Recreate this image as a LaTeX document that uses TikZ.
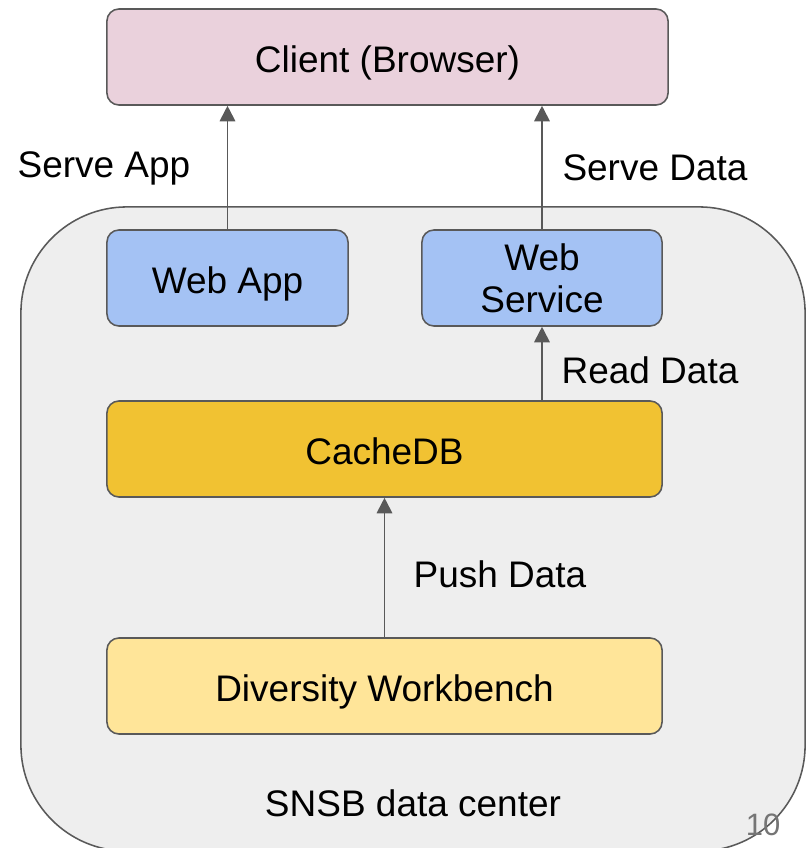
\documentclass[tikz,border=0pt]{standalone}
\usepackage{fontspec}
\setmainfont{Liberation Sans}
\usetikzlibrary{arrows.meta}
\definecolor{client_pink}{HTML}{EAD1DC}
\definecolor{app_blue}{HTML}{A4C2F4}
\definecolor{cache_gold}{HTML}{F1C232}
\definecolor{bench_yellow}{HTML}{FFE599}
\definecolor{center_gray}{HTML}{EEEEEE}
\definecolor{line_gray}{HTML}{595959}
\definecolor{page_gray}{HTML}{757575}
\begin{document}
\begin{tikzpicture}[x=0.025cm,y=-0.025cm,
  every node/.style={font=\fontsize{26.3}{30}\selectfont},
  box_node/.style={draw=line_gray,line width=1.1pt,rounded corners=0.3cm,minimum height=2.4cm,inner sep=0pt,text height=22pt,text depth=0pt},
  label_node/.style={inner sep=0pt},
  flow_arrow/.style={-{Triangle[width=11pt,length=11pt]},draw=line_gray,line width=1.3pt}]

     \useasboundingbox (0,0) rectangle (807,848);

     \node[draw=line_gray,line width=1.1pt,fill=center_gray,rounded corners=2.65cm,minimum width=19.6cm,minimum height=16.1cm,inner sep=0pt] (snsb) at (413,529) {};

     \node[box_node,fill=client_pink,minimum width=14.025cm] (client) at (387.5,57) {Client (Browser)};
     \node[box_node,fill=app_blue,minimum width=6.025cm] (webapp) at (227.5,278) {Web App};
     \node[draw=line_gray,line width=1.1pt,rounded corners=0.3cm,minimum height=2.4cm,inner sep=0pt,align=center,fill=app_blue,minimum width=6cm] (websvc) at (542,278) {Web\\Service};
     \node[box_node,fill=cache_gold,minimum width=13.875cm] (cachedb) at (384.5,449) {CacheDB};
     \node[box_node,fill=bench_yellow,minimum width=13.875cm] (workbench) at (384.5,686) {Diversity Workbench};

     \draw[flow_arrow] (webapp.north) -- (webapp.north |- client.south);
     \draw[flow_arrow] (websvc.north) -- (websvc.north |- client.south);
     \draw[flow_arrow] (websvc.south |- cachedb.north) -- (websvc.south);
     \draw[flow_arrow] (workbench.north) -- (cachedb.south);

     \node[label_node] (serveapp) at (104,168) {Serve App};
     \node[label_node] (servedata) at (655,168) {Serve Data};
     \node[label_node] (readdata) at (650,370) {Read Data};
     \node[label_node] (pushdata) at (500,574) {Push Data};
     \node[label_node] (centername) at (413,803) {SNSB data center};
     \node[label_node,text=page_gray,font=\fontsize{22}{26}\selectfont] (pagenum) at (763,825) {10};

 \end{tikzpicture}
\end{document}
